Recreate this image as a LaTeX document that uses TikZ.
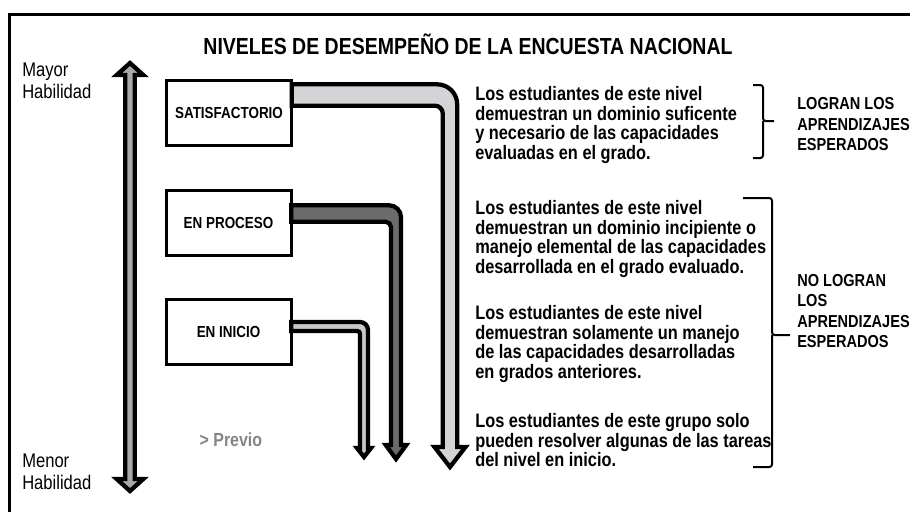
\documentclass[tikz,border=0pt]{standalone}
\usepackage{fontspec}
\setmainfont{Liberation Sans}[FakeStretch=0.84]
\usetikzlibrary{calc}

\begin{document}
\begin{tikzpicture}[x=0.75pt,y=-0.75pt,
  levelbox/.style={draw,line width=2.25pt,minimum width=93.75pt,minimum height=48.75pt,font=\bfseries\fontsize{12}{14}\selectfont},
  levelarrow/.style={draw=black,line width=3.2pt,line join=miter},
  bracket/.style={line width=1.5pt,rounded corners=2pt},
  desc/.style={anchor=north west,inner sep=0pt,align=left,font=\bfseries\fontsize{14.6}{14.85}\selectfont},
  outcome/.style={anchor=north west,inner sep=0pt,align=left,font=\bfseries\fontsize{13}{15.4}\selectfont},
  hab/.style={anchor=north west,inner sep=0pt,align=left,font=\fontsize{14.8}{16}\selectfont}]
\definecolor{satfill}{HTML}{D4D4D6}
\definecolor{profill}{HTML}{6B6B6B}
\definecolor{inifill}{HTML}{C8C8C8}
\definecolor{scalegray}{HTML}{A8A8AC}
\definecolor{previogray}{HTML}{858585}
\useasboundingbox (0,0) rectangle (910,511);
\clip (0,0) rectangle (910,511);
\draw[line width=2.25pt] (9.5,530) |- (930,14.5);

\node[anchor=base,font=\bfseries\fontsize{17.4}{20}\selectfont] (title) at (468,54) {NIVELES DE DESEMPEÑO DE LA ENCUESTA NACIONAL};

% escala de habilidad
\node[hab] (mayor) at (22,63) {Mayor\\Habilidad};
\node[hab] (menor) at (22,454) {Menor\\Habilidad};
\filldraw[levelarrow,fill=scalegray] (130,63) -- (143.3,75) -- (134.75,75) -- (134.75,479) -- (143.3,479)
  -- (130,491) -- (116.7,479) -- (125.25,479) -- (125.25,75) -- (116.7,75) -- cycle;

% niveles
\node[levelbox] (sat) at (229,113) {SATISFACTORIO};
\node[levelbox] (pro) at (228.5,222.5) {EN PROCESO};
\node[levelbox] (ini) at (228.5,331.5) {EN INICIO};
\node[anchor=base west,text=previogray,font=\bfseries\fontsize{14.2}{16}\selectfont] (previo) at (195,446) {> Previo};

\coordinate (sat-tip) at (450,467);
\coordinate (pro-tip) at (396,459);
\coordinate (ini-tip) at (364,457);
\foreach \bx/\clr/\dy/\h/\w/\hw/\hl/\ro/\ri in {sat/satfill/13.5/8/5.4/11.6/15/15/6,
    pro/profill/6.75/6.2/3.75/7.7/10.5/9/4,
    ini/inifill/3.75/3.4/3/5.25/6.75/6/2}
{ \filldraw[levelarrow,fill=\clr] let \p1=(\bx.east), \p2=(\bx-tip) in
    (\x1-1pt,\y1+\dy pt+\h pt) -- (\x2+\w pt-\ro pt,\y1+\dy pt+\h pt)
    arc[start angle=90,end angle=0,radius=\ro pt]
    -- (\x2+\w pt,\y2+\hl pt) -- (\x2+\hw pt,\y2+\hl pt) -- (\x2,\y2)
    -- (\x2-\hw pt,\y2+\hl pt) -- (\x2-\w pt,\y2+\hl pt)
    -- (\x2-\w pt,\y1+\dy pt-\h pt-\ri pt)
    arc[start angle=0,end angle=90,radius=\ri pt]
    -- (\x1-1pt,\y1+\dy pt-\h pt) -- cycle;}

% descripciones
\node[desc] (d1) at (475,86) {Los estudiantes de este nivel\\demuestran un dominio suficente\\y necesario de las capacidades\\evaluadas en el grado.};
\node[desc] (d2) at (475,200) {Los estudiantes de este nivel\\demuestran un dominio incipiente o\\manejo elemental de las capacidades\\desarrollada en el grado evaluado.};
\node[desc] (d3) at (475,305) {Los estudiantes de este nivel\\demuestran solamente un manejo\\de las capacidades desarrolladas\\en grados anteriores.};
\node[desc] (d4) at (475,413) {Los estudiantes de este grupo solo\\pueden resolver algunas de las tareas\\del nivel en inicio.};

\draw[bracket] (753,85) -| (763,121) -- (774,121) (763,121) |- (753,158);
\draw[bracket] (743,198) -| (772,335) -- (790,335) (772,335) |- (753,467);
\node[outcome] (logran) at (797,97.5) {LOGRAN LOS\\APRENDIZAJES\\ESPERADOS};
\node[outcome] (nologran) at (797,274) {NO LOGRAN\\LOS\\APRENDIZAJES\\ESPERADOS};
\end{tikzpicture}
\end{document}
